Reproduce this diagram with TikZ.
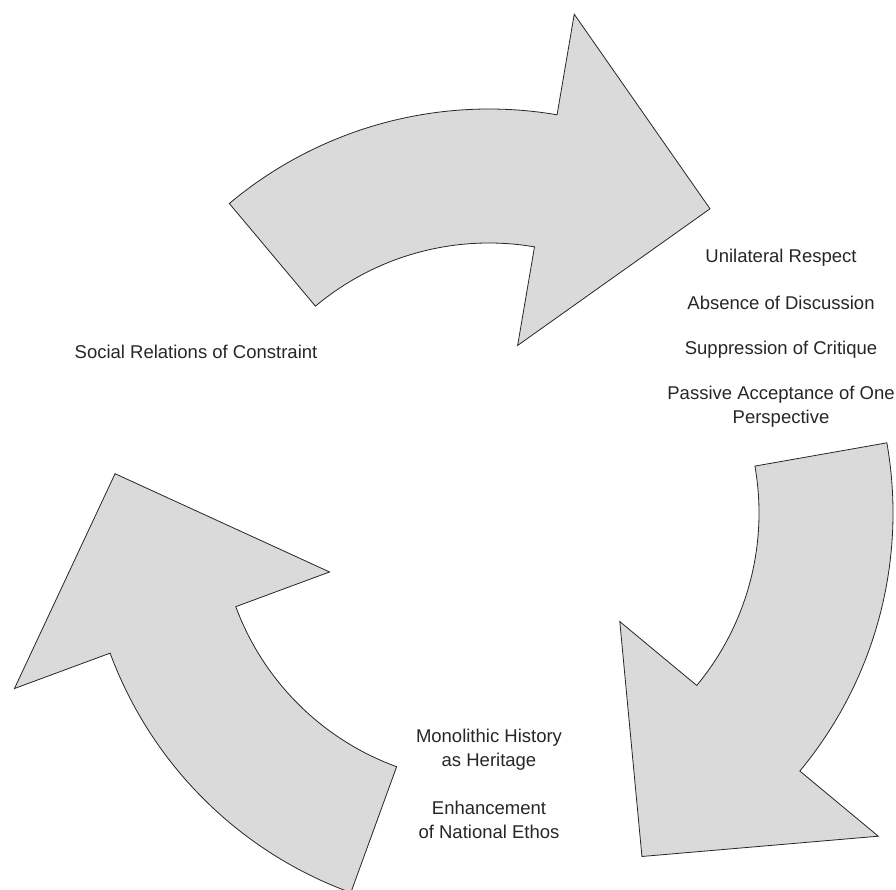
\documentclass[tikz,border=0pt]{standalone}
\usepackage{fontspec}
\setmainfont{Liberation Sans}
\usepackage{tikz}
\usetikzlibrary{calc}
\definecolor{arrowgray}{RGB}{218,218,218}
\tikzset{>=latex}

% one bent arrow of the cycle, #1 = angle of its tail
\newcommand{\cyclearrow}[1]{%
    \draw[cyclearrow] (#1:404) arc[start angle=#1, end angle=#1-49.7, radius=404]
        -- (#1-49.7:506) -- (#1-76:376) -- (#1-49.7:170) -- (#1-49.7:270)
        arc[start angle=#1-49.7, end angle=#1, radius=270] -- cycle;}

\begin{document}
\begin{tikzpicture}[x=1pt, y=1pt,
    cyclearrow/.style={fill=arrowgray, draw=black!85, line width=0.8pt, line join=miter},
    cyclelabel/.style={font=\fontsize{18.5}{24}\selectfont, align=center, text=black!85}]
    \useasboundingbox (0,0) rectangle (896,890);

    % Coordinates
    \coordinate (center) at (489,377);
    \coordinate (R) at (781,632);
    \coordinate (L) at (196,538);
    \coordinate (B) at (489,140);

    % Arrows
    \begin{scope}[shift={(center)}]
        \cyclearrow{130}
        \cyclearrow{10}
        \cyclearrow{250}
    \end{scope}

    % Text
    \node[cyclelabel] (respect) at (R) {Unilateral Respect};
    \node[cyclelabel] (discussion) at ($(R)+(0,-45)$) {Absence of Discussion};
    \node[cyclelabel] (critique) at ($(R)+(0,-92)$) {Suppression of Critique};
    \node[cyclelabel] (perspective) at ($(R)+(0,-148.5)$) {Passive Acceptance of One\\Perspective};

    \node[cyclelabel] (constraint) at (L) {Social Relations of Constraint};

    \node[cyclelabel] (history) at (B) {Monolithic History\\as Heritage};
    \node[cyclelabel] (ethos) at ($(B)+(0,-70)$) {Enhancement\\of National Ethos};
\end{tikzpicture}
\end{document}
